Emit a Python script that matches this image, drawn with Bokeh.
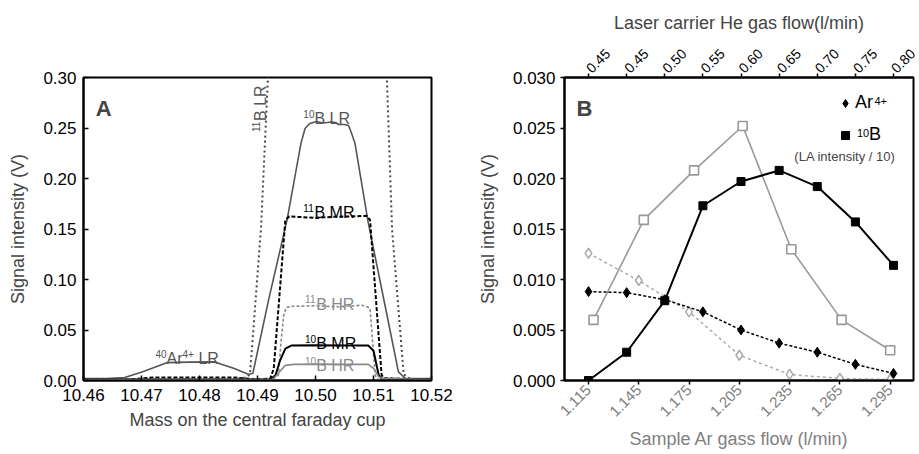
from math import pi
from bokeh.plotting import figure
from bokeh.models import (Range1d, LinearAxis, FixedTicker, Label, Legend, LegendItem,
                          NumeralTickFormatter)
from bokeh.layouts import row
from bokeh.embed import file_html
from bokeh.resources import INLINE

FONT = "Liberation Sans"

# ---------------- Panel A data (mass scans) ----------------
a_x_ticks = [10.46, 10.47, 10.48, 10.49, 10.50, 10.51, 10.52]
a_y_ticks = [0.00, 0.05, 0.10, 0.15, 0.20, 0.25, 0.30]

lr10_mass = [10.460, 10.464, 10.4671, 10.4702, 10.4745, 10.4781, 10.4826, 10.4860, 10.4884,
             10.4892, 10.4920, 10.4951, 10.4975, 10.4982, 10.4990, 10.5002, 10.5012, 10.5020,
             10.5027, 10.5034, 10.5040, 10.5050, 10.5057, 10.5062, 10.5068, 10.5091, 10.5120,
             10.5143, 10.5155, 10.5200]
lr10_sig = [0.002, 0.002, 0.003, 0.0086, 0.0177, 0.0182, 0.0184, 0.0118, 0.0062,
            0.0070, 0.082, 0.159, 0.235, 0.2495, 0.2545, 0.2565, 0.2550, 0.2555,
            0.2560, 0.2555, 0.2535, 0.2535, 0.2525, 0.2450, 0.2350, 0.156, 0.074,
            0.0086, 0.002, 0.002]

lr11_mass = [10.460, 10.4860, 10.4880, 10.4887, 10.4906, 10.4918, 10.4930, 10.5110,
             10.5123, 10.5132, 10.5152, 10.5165, 10.5200]
lr11_sig = [0.001, 0.001, 0.003, 0.006, 0.150, 0.300, 0.400, 0.400,
            0.300, 0.150, 0.006, 0.001, 0.001]

mr11_mass = [10.460, 10.468, 10.472, 10.480, 10.486, 10.490, 10.4922, 10.4928, 10.4948,
             10.4955, 10.4970, 10.5000, 10.5030, 10.5060, 10.5088, 10.5094, 10.5114,
             10.5120, 10.5200]
mr11_sig = [0.001, 0.001, 0.003, 0.003, 0.003, 0.001, 0.002, 0.0118, 0.159,
            0.1625, 0.162, 0.161, 0.162, 0.1625, 0.163, 0.159, 0.0052,
            0.002, 0.001]

hr11_mass = [10.460, 10.4925, 10.4936, 10.4941, 10.4945, 10.4950, 10.4962, 10.5000,
             10.5040, 10.5080, 10.5091, 10.5094, 10.5103, 10.5107, 10.5200]
hr11_sig = [0.001, 0.001, 0.005, 0.041, 0.064, 0.0725, 0.0735, 0.074,
            0.073, 0.0745, 0.0725, 0.071, 0.005, 0.001, 0.001]

mr10_mass = [10.460, 10.4920, 10.4924, 10.4931, 10.4939, 10.4948, 10.4959, 10.5000,
             10.5050, 10.5091, 10.5100, 10.5109, 10.5114, 10.5200]
mr10_sig = [0.001, 0.001, 0.002, 0.0052, 0.020, 0.0315, 0.0347, 0.0348,
            0.0347, 0.0347, 0.0295, 0.0052, 0.002, 0.001]

hr10_mass = [10.460, 10.4925, 10.4928, 10.4940, 10.4948, 10.4962, 10.5000, 10.5050,
             10.5091, 10.5100, 10.5109, 10.5116, 10.5200]
hr10_sig = [0.001, 0.001, 0.002, 0.010, 0.015, 0.016, 0.0162, 0.016,
            0.016, 0.012, 0.0036, 0.002, 0.001]

# ---------------- Panel B data ----------------
b_x_ticks = [1.115, 1.145, 1.175, 1.205, 1.235, 1.265, 1.295]
b_y_ticks = [0.000, 0.005, 0.010, 0.015, 0.020, 0.025, 0.030]

he_flow = [0.40, 0.45, 0.50, 0.55, 0.60, 0.65, 0.70, 0.75, 0.80]
he_labels = ["0.45", "0.45", "0.50", "0.55", "0.60", "0.65", "0.70", "0.75", "0.80"]
b10_vs_he = [0.0000, 0.0028, 0.0079, 0.0173, 0.0197, 0.0208, 0.0192, 0.0157, 0.0114]
ar_vs_he = [0.0088, 0.0087, 0.0080, 0.0068, 0.0050, 0.0037, 0.0028, 0.0016, 0.0007]

ar_flow_b10 = [1.118, 1.148, 1.178, 1.207, 1.236, 1.266, 1.295]
b10_vs_ar = [0.0060, 0.0159, 0.0208, 0.0252, 0.0130, 0.0060, 0.0030]
ar_flow_ar = [1.115, 1.145, 1.175, 1.205, 1.235, 1.265, 1.295]
ar_vs_ar = [0.0126, 0.0099, 0.0068, 0.0025, 0.0006, 0.0002, 0.0001]

# approximate Arial / Liberation Sans advance widths (em units) for label layout
EM = {"0": .556, "1": .556, "4": .556, "+": .584, "A": .667, "B": .667, "r": .333,
      " ": .278, "L": .556, "R": .722, "M": .833, "H": .722}


def text_w(s, size):
    return sum(EM.get(c, .556) for c in s) * size


def style_axis(ax, size="17px", color="black"):
    ax.major_label_text_font = FONT
    ax.major_label_text_font_size = size
    ax.major_label_text_color = color
    ax.axis_label_text_font = FONT
    ax.axis_label_text_font_size = "18px"
    ax.axis_label_text_font_style = "normal"
    ax.axis_line_width = 2
    ax.major_tick_line_width = 1.5
    ax.minor_tick_line_color = None


def rich(p, x, y, parts, color, size=16, sup=10, angle=0.0, **kw):
    """parts: list of (text, is_superscript); placed piece by piece."""
    adv = 0.0
    rise = size * 0.30
    for txt, is_sup in parts:
        fs = sup if is_sup else size
        dy = rise if is_sup else 0.0
        lead = len(txt) - len(txt.lstrip())
        adv += text_w(" " * lead, fs)
        body = txt.lstrip()
        if angle == 0:
            xo, yo = adv, dy
        else:
            xo, yo = -dy, adv
        p.add_layout(Label(x=x, y=y, x_offset=xo, y_offset=yo, text=body, angle=angle,
                           text_color=color, text_font=FONT, text_font_size=f"{fs}px",
                           text_baseline="alphabetic", **kw))
        adv += text_w(body, fs)


# ================= Panel A =================
pa = figure(width=456, height=452, output_backend="svg", toolbar_location=None,
            x_range=Range1d(10.46, 10.52), y_range=Range1d(0.0, 0.30),
            min_border_left=83, min_border_right=25, min_border_top=77, min_border_bottom=70,
            background_fill_color="white", border_fill_color="white")
pa.grid.visible = False
pa.outline_line_color = "black"
pa.outline_line_width = 2
pa.xaxis.ticker = FixedTicker(ticks=a_x_ticks)
pa.yaxis.ticker = FixedTicker(ticks=a_y_ticks)
pa.xaxis.formatter = NumeralTickFormatter(format="0.00")
pa.yaxis.formatter = NumeralTickFormatter(format="0.00")
for ax in (pa.xaxis[0], pa.yaxis[0]):
    style_axis(ax)
    ax.major_tick_in = 5
    ax.major_tick_out = 0
pa.xaxis.axis_label = "Mass on the central faraday cup"
pa.yaxis.axis_label = "Signal intensity (V)"
pa.xaxis.major_label_standoff = 8
pa.xaxis.axis_label_standoff = 6
pa.yaxis.major_label_standoff = 7
pa.yaxis.axis_label_standoff = 12

pa.line(lr11_mass, lr11_sig, line_color="#4a4a4a", line_width=2, line_dash="2 3")
pa.line(lr10_mass, lr10_sig, line_color="#555555", line_width=1.6)
pa.line(mr11_mass, mr11_sig, line_color="black", line_width=2, line_dash="4 2")
pa.line(hr11_mass, hr11_sig, line_color="#8a8a8a", line_width=1.6, line_dash="3 2")
pa.line(mr10_mass, mr10_sig, line_color="black", line_width=2)
pa.line(hr10_mass, hr10_sig, line_color="#8a8a8a", line_width=1.6)

pa.add_layout(Label(x=10.4621, y=0.2695, text="A", text_font=FONT, text_font_size="22px",
                    text_font_style="bold", text_baseline="alphabetic"))
rich(pa, 10.4905, 0.246, [("11", True), ("B LR", False)], "#555555", angle=pi / 2)
rich(pa, 10.4979, 0.2594, [("10", True), ("B LR", False)], "#555555")
rich(pa, 10.4979, 0.1665, [("11", True), ("B MR", False)], "black")
rich(pa, 10.4982, 0.0757, [("11", True), ("B HR", False)], "#8a8a8a")
rich(pa, 10.4982, 0.0364, [("10", True), ("B MR", False)], "black")
rich(pa, 10.4982, 0.0150, [("10", True), ("B HR", False)], "#8a8a8a")
rich(pa, 10.4724, 0.0216, [("40", True), ("Ar", False), ("4+", True), (" LR", False)], "#555555")

# ================= Panel B =================
XB0, XB1 = 1.1007, 1.3089
pb = figure(width=463, height=452, output_backend="svg", toolbar_location=None,
            x_range=Range1d(XB0, XB1), y_range=Range1d(0.0, 0.030),
            min_border_left=108, min_border_right=6, min_border_top=77, min_border_bottom=70,
            background_fill_color="white", border_fill_color="white")
pb.extra_x_ranges = {"he": Range1d(0.3685, 0.8262)}
pb.grid.visible = False
pb.outline_line_color = "black"
pb.outline_line_width = 2
pb.xaxis.ticker = FixedTicker(ticks=b_x_ticks)
pb.yaxis.ticker = FixedTicker(ticks=b_y_ticks)
pb.xaxis.formatter = NumeralTickFormatter(format="0.000")
pb.yaxis.formatter = NumeralTickFormatter(format="0.000")
style_axis(pb.xaxis[0], size="15px", color="#808080")
style_axis(pb.yaxis[0])
for ax in (pb.xaxis[0], pb.yaxis[0]):
    ax.major_tick_in = 0
    ax.major_tick_out = 4
pb.xaxis.major_label_orientation = pi / 4
pb.xaxis.axis_label = "Sample Ar gass flow (l/min)"
pb.xaxis.axis_label_text_color = "#808080"
pb.xaxis.major_label_standoff = 3
pb.xaxis.axis_label_standoff = 5
pb.yaxis.axis_label = "Signal intensity (V)"
pb.yaxis.major_label_standoff = 5
pb.yaxis.axis_label_standoff = 12

top = LinearAxis(x_range_name="he", ticker=FixedTicker(ticks=he_flow),
                 major_label_overrides={v: t for v, t in zip(he_flow, he_labels)},
                 axis_label="Laser carrier He gas flow(l/min)")
style_axis(top, size="14px")
top.major_tick_in = 0
top.major_tick_out = 4
top.major_label_orientation = pi / 4
top.major_label_standoff = 3
top.axis_label_standoff = 8
pb.add_layout(top, "above")

# gray series vs sample Ar gas flow
pb.line(ar_flow_b10, b10_vs_ar, line_color="#999999", line_width=1.6)
pb.scatter(ar_flow_b10, b10_vs_ar, marker="square", size=9, fill_color="white",
           line_color="#999999", line_width=1.6)
pb.line(ar_flow_ar, ar_vs_ar, line_color="#aaaaaa", line_width=1.5, line_dash="3 3")
pb.scatter(ar_flow_ar, ar_vs_ar, marker="diamond", size=10, fill_color="white",
           line_color="#aaaaaa", line_width=1.5)

# black series vs laser carrier He flow
pb.line(he_flow, ar_vs_he, x_range_name="he", line_color="black", line_width=1.5, line_dash="3 2")
r_ar = pb.scatter(he_flow, ar_vs_he, x_range_name="he", marker="diamond", size=10,
                  fill_color="black", line_color="black")
pb.line(he_flow, b10_vs_he, x_range_name="he", line_color="black", line_width=2)
r_b = pb.scatter(he_flow, b10_vs_he, x_range_name="he", marker="square", size=8,
                 fill_color="black", line_color="black")

# legend (two single-item legends so the superscript of 10B fits before the label)
leg_common = dict(border_line_color=None, background_fill_alpha=0, label_text_font=FONT,
                  label_text_font_size="18px", label_text_color="black",
                  glyph_width=20, glyph_height=20, label_height=20, padding=0, margin=0)
pb.add_layout(Legend(items=[LegendItem(label="Ar", renderers=[r_ar])],
                     location=(271, 267), label_standoff=0, **leg_common))
pb.add_layout(Legend(items=[LegendItem(label="B", renderers=[r_b])],
                     location=(271, 235), label_standoff=14, **leg_common))


def bx(px):  # pixel offset inside the frame -> sample-flow axis value (for annotations)
    return XB0 + px / 349 * (XB1 - XB0)


def by(py):  # pixel offset from the frame top -> signal value (for annotations)
    return (305 - py) / 305 * 0.030


rich(pb, bx(310), by(29), [("4+", True)], "black", size=18, sup=11)
rich(pb, bx(292.5), by(61.5), [("10", True)], "black", size=18, sup=11)
pb.add_layout(Label(x=bx(331), y=by(80), text="(LA intensity / 10)", text_font=FONT,
                    text_font_size="13px", text_align="right", text_baseline="alphabetic"))
pb.add_layout(Label(x=bx(12), y=by(31), text="B", text_font=FONT, text_font_size="22px",
                    text_font_style="bold", text_baseline="alphabetic"))

layout = row(pa, pb)
open("out.html", "w").write(file_html(layout, INLINE))
